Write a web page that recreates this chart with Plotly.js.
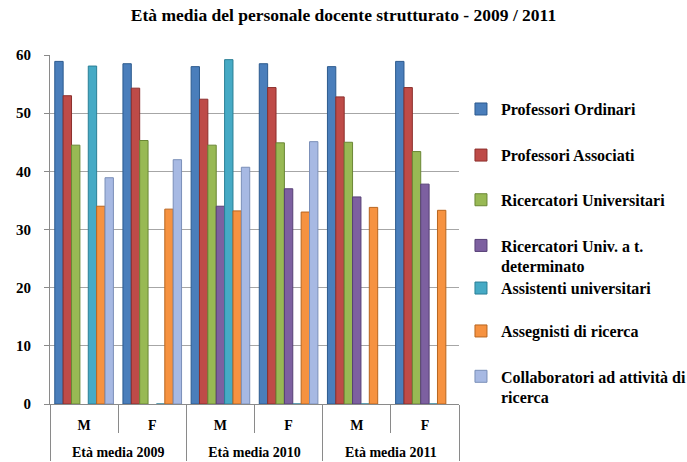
<!DOCTYPE html>
<html>
<head>
<meta charset="utf-8">
<script src="https://cdn.plot.ly/plotly-3.0.1.min.js"></script>
<style>html,body{margin:0;padding:0;background:#fff;}#chart{width:687px;height:462px;}</style>
</head>
<body>
<div id="chart"></div>
<script>
// Data
const years = ["Età media 2009","Età media 2009","Età media 2010","Età media 2010","Età media 2011","Età media 2011"];
const sexes = ["M","F","M","F","M","F"];
const seriesNames = [
  "Professori Ordinari",
  "Professori Associati",
  "Ricercatori Universitari",
  "Ricercatori Univ. a t.<br>determinato",
  "Assistenti universitari",
  "Assegnisti di ricerca",
  "Collaboratori ad attività di<br>ricerca"
];
const profOrdinari   = [58.9, 58.5, 58.0, 58.5, 58.0, 58.9];
const profAssociati  = [53.0, 54.3, 52.4, 54.4, 52.8, 54.4];
const ricUniv        = [44.5, 45.3, 44.5, 44.9, 45.0, 43.4];
const ricUnivTD      = [null, null, 34.0, 37.0, 35.6, 37.8];
const assistenti     = [58.1, 0, 59.2, 0, 0, 0];
const assegnisti     = [34.0, 33.5, 33.2, 33.0, 33.8, 33.3];
const collaboratori  = [38.9, 42.0, 40.7, 45.1, null, null];
const seriesValues = [profOrdinari, profAssociati, ricUniv, ricUnivTD, assistenti, assegnisti, collaboratori];
const colors = ["#4A7EBB","#BE4B48","#98B954","#7D60A0","#46AAC5","#F69240","#A7B9E3"];
const lineColors = ["#2C5A8E","#8C2F2C","#6A8735","#563F75","#2A7F96","#B8651F","#7A8FB8"];
// legend centre positions (fraction of plot height from bottom)
const legendY = [0.845, 0.713, 0.585, 0.424, 0.332, 0.209, 0.049];

const serif = "Liberation Serif";
const legendNames = ["legend","legend2","legend3","legend4","legend5","legend6","legend7"];
// second-level labels padded with an empty line so the group row sits lower
const sexLabels = sexes.map(s => s + "<br> ");
const traces = seriesValues.map((vals, i) => ({
  type: "bar",
  name: seriesNames[i],
  x: [years, sexLabels],
  y: vals,
  marker: {color: colors[i], line: {color: lineColors[i], width: 1}},
  legend: legendNames[i],
  hoverinfo: "y+name"
}));

const layout = {
  width: 687, height: 462,
  margin: {l: 50, r: 228, t: 55, b: 58},
  font: {family: serif, color: "#000"},
  paper_bgcolor: "#fff", plot_bgcolor: "#fff",
  title: {text: "Età media del personale docente strutturato - 2009 / 2011",
          font: {family: serif, size: 17.5, color: "#000", weight: "bold"},
          x: 0.5, xanchor: "center", y: 0.967, yanchor: "middle"},
  barmode: "group", bargap: 0.14, bargroupgap: 0,
  xaxis: {
    type: "multicategory",
    showline: true, linecolor: "#8a8a8a", linewidth: 1,
    ticks: "outside", tickson: "boundaries", ticklen: 28, tickcolor: "#8a8a8a",
    showdividers: true, dividercolor: "#8a8a8a", dividerwidth: 1,
    tickfont: {family: serif, size: 14, color: "#000", weight: "bold"},
    ticklabelstandoff: 8,
    showgrid: false
  },
  yaxis: {
    range: [0, 60], dtick: 10,
    showline: true, linecolor: "#8a8a8a", ticks: "outside", ticklen: 5, tickcolor: "#8a8a8a",
    showgrid: true, gridcolor: "#a6a6a6", gridwidth: 1,
    tickfont: {family: serif, size: 15, color: "#000", weight: "bold"},
    ticklabelstandoff: 10,
    zeroline: false
  },
  showlegend: true
};
legendNames.forEach((ln, i) => {
  layout[ln] = {
    xref: "container", x: 0.671, xanchor: "left",
    y: legendY[i], yanchor: "middle",
    font: {family: serif, size: 16, color: "#000", weight: "bold"},
    itemwidth: 30, valign: "top", bgcolor: "rgba(0,0,0,0)"
  };
});

Plotly.newPlot("chart", traces, layout, {displayModeBar: false, staticPlot: true});
</script>
</body>
</html>
